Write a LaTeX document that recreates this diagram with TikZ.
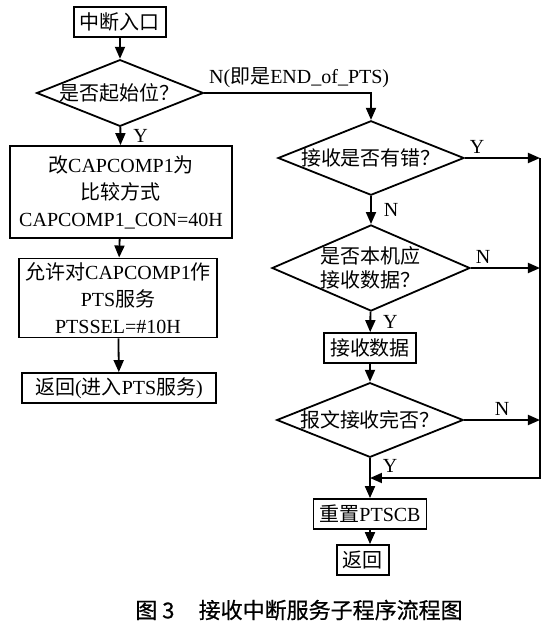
\documentclass[tikz,border=0pt]{standalone}
\usepackage{fontspec}
\setmainfont{Liberation Serif}
\newfontfamily\cjk{Noto Sans CJK SC}
\newfontfamily\capfont[FakeBold=0.6]{Noto Sans CJK SC}
\newcommand\zh[1]{{\cjk #1}}
\usetikzlibrary{arrows.meta, positioning, shapes.geometric, calc}
\tikzset{
  every picture/.style={line width=0.9pt},
  box/.style={draw, align=center, inner xsep=3pt, inner ysep=2pt, minimum height=#1},
  box/.default=15pt,
  decision/.style={draw, diamond, aspect=#1, inner sep=0pt, align=center},
  decision/.default=2.5,
  arrow/.style={-{Triangle[length=6pt, width=5pt]}},
  yn/.style={font=\fontsize{10}{12}\selectfont, inner sep=2pt},
  ynr/.style={yn, right, xshift=4pt},
}

\begin{document}
\begin{tikzpicture}[x=0.5pt, y=-0.5pt, font=\fontsize{10}{13.5}\selectfont]
  \useasboundingbox (0,0) rectangle (549,634);
  % left column
  \node[box] (entry) at (120,22) {\zh{中断入口}};
  \node[decision] (isfirst) at (120,93) {\zh{是否起始位？}};
  \node[box=46pt, minimum width=111pt] (setcmp) at (121,192)
    {\zh{改}CAPCOMP1\zh{为}\\ \zh{比较方式}\\ CAPCOMP1\_CON=40H};
  \node[box=36pt, minimum width=96pt] (setpts) at (118,298)
    {\zh{允许对}CAPCOMP1\zh{作}\\ PTS\zh{服务}\\ PTSSEL=\#10H};
  \node[box, minimum width=97pt] (ret1) at (119,388) {\zh{返回}(\zh{进入}PTS\zh{服务})};
  % right column
  \node[decision] (err) at (371,158) {\zh{接收是否有错？}};
  \node[decision=2.3, font=\fontsize{10}{12}\selectfont] (mine) at (371,268)
    {\zh{是否本机应}\\ \zh{接收数据？}};
  \node[box] (recv) at (370,348) {\zh{接收数据}};
  \node[decision] (done) at (370,420) {\zh{报文接收完否？}};
  \node[box] (reset) at (370,514) {\zh{重置}PTSCB};
  \node[box] (ret2) at (363,560) {\zh{返回}};
  % rail on the right
  \coordinate (rtop) at (540,158);
  \coordinate (rbot) at (540,478);
  \coordinate (join) at (370,478);

  \draw[arrow] (entry) -- (isfirst);
  \draw[arrow] (isfirst) -- node[ynr] {Y} (setcmp);
  \draw[arrow] (setcmp) -- (setpts);
  \draw[arrow] (setpts) -- (ret1);
  \draw[arrow] (isfirst.east) node[yn, above right] {N(\zh{即是}END\_of\_PTS)} -| (err.north);

  \draw[arrow] (err.east) node[yn, above right] {Y} -- (err.east -| rtop);
  \draw[arrow] (err) -- node[ynr] {N} (mine);
  \draw[arrow] (mine.east) node[yn, above right] {N} -- (mine.east -| rtop);
  \draw[arrow] (mine) -- node[ynr] {Y} (recv);
  \draw[arrow] (recv) -- (done);
  \draw[arrow] (done.east) -- node[yn, above] {N} (done.east -| rtop);
  \draw[arrow] (done) -- node[ynr, pos=0.2] {Y} (reset);
  \draw[arrow] (rtop) -- (rbot) -- (join);
  \draw[arrow] (reset) -- (reset.south |- ret2.north);

  \node (caption) at (299,610) {\fontsize{11}{13}\selectfont\capfont 图 3\hspace{1.1em}接收中断服务子程序流程图};
\end{tikzpicture}
\end{document}
